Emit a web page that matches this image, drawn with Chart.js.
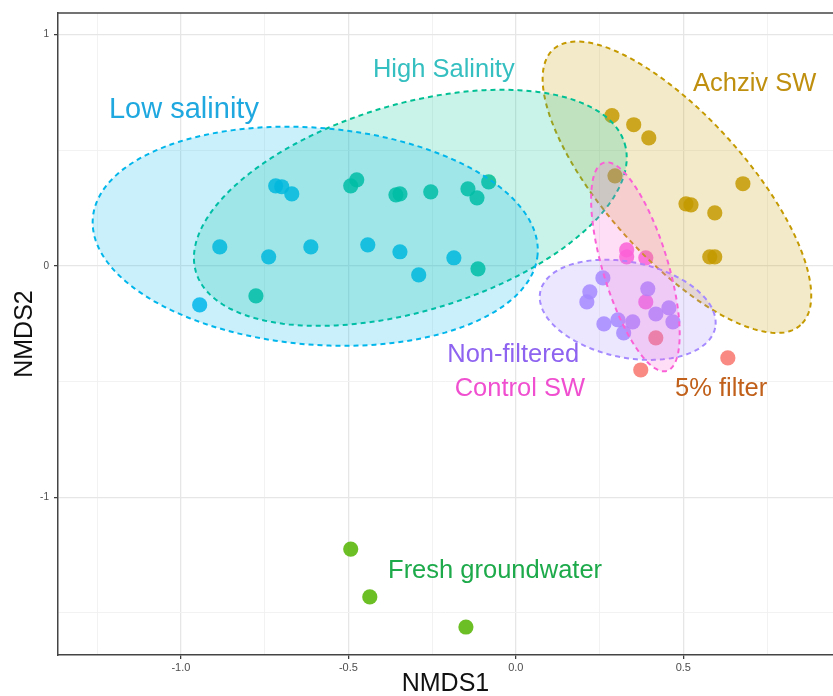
<!DOCTYPE html>
<html>
<head>
<meta charset="utf-8">
<title>NMDS</title>
<script src="https://cdn.jsdelivr.net/npm/chart.js@4.4.1/dist/chart.umd.min.js"></script>
<style>
  html, body { margin: 0; padding: 0; background: #fff; }
  #nmds { display: block; }
</style>
</head>
<body>
<canvas id="nmds" width="833" height="696"></canvas>
<script>
// groups, in factor order (this is also the colour order)
const groupNames = ["5% filter", "Achziv SW", "Fresh groundwater", "High Salinity", "Low salinity", "Non-filtered", "Control SW"];

// NMDS1 / NMDS2 scores
const filter5 = [[0.418, -0.311], [0.373, -0.450], [0.633, -0.398]];
const achzivSW = [[0.287, 0.649], [0.352, 0.610], [0.397, 0.553], [0.296, 0.389], [0.678, 0.355],
    [0.508, 0.268], [0.523, 0.264], [0.594, 0.229], [0.579, 0.039], [0.594, 0.039]];
const freshGW = [[-0.493, -1.224], [-0.436, -1.431], [-0.149, -1.561]];
const highSalinity = [[-0.776, -0.130], [-0.493, 0.346], [-0.475, 0.372], [-0.358, 0.307], [-0.346, 0.311],
    [-0.254, 0.320], [-0.143, 0.333], [-0.116, 0.294], [-0.081, 0.363], [-0.113, -0.013]];
const lowSalinity = [[-0.944, -0.169], [-0.884, 0.082], [-0.738, 0.039], [-0.717, 0.346], [-0.699, 0.342],
    [-0.669, 0.311], [-0.612, 0.082], [-0.442, 0.091], [-0.346, 0.061], [-0.290, -0.039], [-0.185, 0.035]];
const nonFiltered = [[0.260, -0.052], [0.221, -0.112], [0.212, -0.156], [0.394, -0.099], [0.263, -0.251],
    [0.305, -0.233], [0.349, -0.242], [0.322, -0.290], [0.418, -0.208], [0.457, -0.182], [0.469, -0.242]];
const controlSW = [[0.331, 0.069], [0.331, 0.039], [0.388, 0.035], [0.388, -0.156]];

const groupPoints = [filter5, achzivSW, freshGW, highSalinity, lowSalinity, nonFiltered, controlSW];

// confidence ellipses: centre and two semi-axis vectors, in NMDS units
const ellipseGroups = ["Achziv SW", "High Salinity", "Low salinity", "Non-filtered", "Control SW"];
const ellipseCentre = [[0.481, 0.340], [-0.315, 0.251], [-0.599, 0.128], [0.334, -0.190], [0.357, -0.004]];
const ellipseAxisA = [[0.369, -0.596], [0.640, 0.278], [0.664, -0.079], [0.261, -0.078], [0.094, -0.450]];
const ellipseAxisB = [[-0.157, -0.204], [0.089, -0.428], [-0.027, -0.467], [-0.029, -0.202], [-0.093, -0.041]];

// group labels written on the plot (anchor = centre of text, on its baseline)
const labelText = ["Low salinity", "High Salinity", "Achziv SW", "Non-filtered", "Control SW", "5% filter", "Fresh groundwater"];
const labelAt = [[-0.991, 0.640], [-0.215, 0.816], [0.713, 0.758], [-0.008, -0.416], [0.012, -0.561], [0.613, -0.562], [-0.062, -1.348]];

// axes
const xRange = [-1.367, 0.947];
const yRange = [-1.682, 1.093];
const xGrid = [-1.25, -1, -0.75, -0.5, -0.25, 0, 0.25, 0.5, 0.75];
const yGrid = [-1.5, -1, -0.5, 0, 0.5, 1];
const xMajor = [-1, -0.5, 0, 0.5];
const yMajor = [-1, 0, 1];
const xTickLabels = ["-1.0", "-0.5", "0.0", "0.5"];
const yTickLabels = ["-1", "0", "1"];

// styling
const colours = {
    "5% filter": "#F8766D",
    "Achziv SW": "#C49A00",
    "Fresh groundwater": "#53B400",
    "High Salinity": "#00C094",
    "Low salinity": "#00B6EB",
    "Non-filtered": "#A58AFF",
    "Control SW": "#FB61D7"
};
const labelColours = ["#1FA8E0", "#35BFC0", "#BF8F0F", "#8E63F0", "#F050D0", "#C0601A", "#1DAA4B"];
const labelSizes = [29, 25.5, 25.5, 25.5, 25.5, 25.5, 25.5];
const FONT = '"Liberation Sans", Arial, sans-serif';

function withAlpha(hex, a) {
    const n = parseInt(hex.slice(1), 16);
    return `rgba(${(n >> 16) & 255},${(n >> 8) & 255},${n & 255},${a})`;
}

const isMajor = (list, v) => list.some(m => Math.abs(m - v) < 1e-9);

const overlayPlugin = {
    id: "overlay",
    afterDatasetsDraw(chart) {
        const { ctx, chartArea, scales: { x, y } } = chart;
        ctx.save();
        ctx.beginPath();
        ctx.rect(chartArea.left, chartArea.top, chartArea.right - chartArea.left, chartArea.bottom - chartArea.top);
        ctx.clip();
        ellipseGroups.forEach((g, i) => {
            const [cx, cy] = ellipseCentre[i];
            const [ax, ay] = ellipseAxisA[i];
            const [bx, by] = ellipseAxisB[i];
            ctx.beginPath();
            for (let k = 0; k <= 180; k++) {
                const t = (k / 180) * Math.PI * 2;
                const px = x.getPixelForValue(cx + ax * Math.cos(t) + bx * Math.sin(t));
                const py = y.getPixelForValue(cy + ay * Math.cos(t) + by * Math.sin(t));
                if (k === 0) ctx.moveTo(px, py); else ctx.lineTo(px, py);
            }
            ctx.closePath();
            ctx.fillStyle = withAlpha(colours[g], 0.21);
            ctx.fill();
            ctx.setLineDash([5, 4]);
            ctx.lineWidth = 2;
            ctx.strokeStyle = colours[g];
            ctx.stroke();
        });
        ctx.restore();
    },
    afterDraw(chart) {
        const { ctx, chartArea, scales: { x, y } } = chart;
        ctx.save();
        // top edge of the panel
        ctx.strokeStyle = "#444";
        ctx.lineWidth = 1.5;
        ctx.beginPath();
        ctx.moveTo(chartArea.left, chartArea.top);
        ctx.lineTo(chartArea.right, chartArea.top);
        ctx.stroke();
        // group labels
        ctx.textAlign = "center";
        ctx.textBaseline = "alphabetic";
        labelText.forEach((txt, i) => {
            ctx.font = `${labelSizes[i]}px ${FONT}`;
            ctx.fillStyle = labelColours[i];
            ctx.fillText(txt, x.getPixelForValue(labelAt[i][0]), y.getPixelForValue(labelAt[i][1]));
        });
        ctx.restore();
    }
};

const datasets = groupNames.map((g, i) => ({
    label: g,
    data: groupPoints[i].map(p => ({ x: p[0], y: p[1] })),
    backgroundColor: withAlpha(colours[g], 0.85),
    borderWidth: 0,
    pointRadius: 7.6,
    pointHoverRadius: 7.6
}));

new Chart(document.getElementById("nmds"), {
    type: "scatter",
    data: { datasets: datasets },
    plugins: [overlayPlugin],
    options: {
        responsive: false,
        animation: false,
        events: [],
        layout: { autoPadding: false, padding: { top: 13, right: 0, bottom: 0, left: 0 } },
        plugins: {
            legend: { display: false },
            tooltip: { enabled: false }
        },
        scales: {
            x: {
                type: "linear",
                position: "bottom",
                min: xRange[0],
                max: xRange[1],
                bounds: "data",
                afterBuildTicks: s => { s.ticks = xGrid.map(v => ({ value: v })); },
                afterFit: s => { s.height = 41; },
                ticks: {
                    autoSkip: false,
                    maxRotation: 0,
                    padding: 2,
                    color: "#4D4D4D",
                    font: { family: FONT, size: 11 },
                    callback: v => isMajor(xMajor, v) ? xTickLabels[xMajor.findIndex(m => Math.abs(m - v) < 1e-9)] : ""
                },
                grid: {
                    color: c => isMajor(xMajor, c.tick.value) ? "#E6E6E6" : "#F0F0F0",
                    lineWidth: c => isMajor(xMajor, c.tick.value) ? 1.3 : 0.9,
                    tickColor: c => isMajor(xMajor, c.tick.value) ? "#333" : "rgba(0,0,0,0)",
                    tickLength: 4,
                    tickWidth: 1.2
                },
                border: { display: true, color: "#444", width: 1.5 },
                title: {
                    display: true,
                    text: "NMDS1",
                    color: "#111",
                    font: { family: FONT, size: 25, lineHeight: 1 },
                    padding: { top: 0, bottom: -1 }
                }
            },
            y: {
                type: "linear",
                position: "left",
                min: yRange[0],
                max: yRange[1],
                bounds: "data",
                afterBuildTicks: s => { s.ticks = yGrid.map(v => ({ value: v })); },
                afterFit: s => { s.width = 58; },
                ticks: {
                    autoSkip: false,
                    padding: 5,
                    color: "#4D4D4D",
                    font: { family: FONT, size: 10 },
                    callback: v => isMajor(yMajor, v) ? yTickLabels[yMajor.findIndex(m => Math.abs(m - v) < 1e-9)] : ""
                },
                grid: {
                    color: c => isMajor(yMajor, c.tick.value) ? "#E6E6E6" : "#F0F0F0",
                    lineWidth: c => isMajor(yMajor, c.tick.value) ? 1.3 : 0.9,
                    tickColor: c => isMajor(yMajor, c.tick.value) ? "#333" : "rgba(0,0,0,0)",
                    tickLength: 4,
                    tickWidth: 1.2
                },
                border: { display: true, color: "#444", width: 1.5 },
                title: {
                    display: true,
                    text: "NMDS2",
                    color: "#111",
                    font: { family: FONT, size: 25, lineHeight: 1 },
                    padding: { top: 12.5, bottom: 0 }
                }
            }
        }
    }
});
</script>
</body>
</html>
